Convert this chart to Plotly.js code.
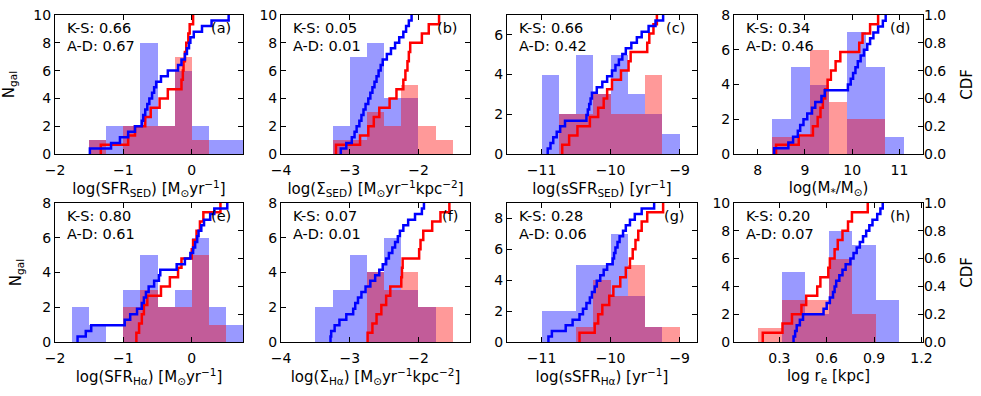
<!DOCTYPE html>
<html>
<head>
<meta charset="utf-8">
<script src="https://cdn.plot.ly/plotly-3.0.1.min.js"></script>
<style>
  body { margin: 0; background: #fff; }
  #plot { width: 981px; height: 396px; }
</style>
</head>
<body>
<div id="plot"></div>
<script>
// ---- data ----
// histogram counts per bin (bins start at binStart, fixed width)
const binStartA = -1.5, binWidthA = 0.25;
const histBlueA = [1, 2, 2, 8, 2, 6, 2, 1, 1];
const histRedA = [1, 0, 2, 2, 2, 7, 1];
const binStartB = -3.25, binWidthB = 0.25;
const histBlueB = [2, 7, 8, 4, 4];
const histRedB = [1, 1, 3, 2, 5, 2, 1];
const binStartC = -11, binWidthC = 0.25;
const histBlueC = [4, 2, 5, 3, 5, 3, 2, 1];
const histRedC = [0, 2, 2, 3, 2, 2, 4];
const binStartD = 8.3, binWidthD = 0.4;
const histBlueD = [2, 5, 4, 0, 7, 5, 1];
const histRedD = [1, 1, 6, 3, 2, 2];
const binStartE = -1.75, binWidthE = 0.25;
const histBlueE = [2, 1, 0, 3, 5, 2, 3, 6, 2, 1];
const histRedE = [0, 0, 0, 2, 3, 2, 2, 5, 1];
const binStartF = -3.5, binWidthF = 0.25;
const histBlueF = [2, 3, 5, 4, 6, 3, 2];
const histRedF = [0, 0, 0, 4, 3, 4, 2, 2];
const binStartG = -11, binWidthG = 0.25;
const histBlueG = [2, 2, 5, 5, 7, 3, 1];
const histRedG = [0, 0, 1, 4, 3, 5, 1, 1];
const binStartH = 0.165, binWidthH = 0.149;
const histBlueH = [0, 5, 2, 8, 7, 3];
const histRedH = [1, 3, 3, 6, 2];

// sample values where the cumulative curves step up
const cdfBlueA = [-1.49, -1.18, -1.05, -0.93, -0.83, -0.73, -0.71, -0.68, -0.65, -0.62, -0.58, -0.55, -0.52, -0.45, -0.35, -0.2, -0.15, -0.1, -0.07, -0.04, -0.02, 0.03, 0.15, 0.29, 0.54];
const cdfRedA = [-1.33, -0.93, -0.83, -0.68, -0.6, -0.47, -0.35, -0.15, -0.13, -0.12, -0.1, -0.08, -0.05, -0.03, 0.02];
const cdfBlueB = [-3.13, -3.05, -2.97, -2.93, -2.9, -2.86, -2.83, -2.8, -2.77, -2.73, -2.7, -2.67, -2.64, -2.61, -2.58, -2.55, -2.52, -2.46, -2.4, -2.34, -2.28, -2.22, -2.18, -2.14, -2.1];
const cdfRedB = [-3.2, -2.85, -2.73, -2.65, -2.57, -2.42, -2.32, -2.22, -2.19, -2.16, -2.14, -2.12, -1.95, -1.85, -1.7];
const cdfBlueC = [-10.91, -10.87, -10.83, -10.78, -10.73, -10.66, -10.35, -10.33, -10.31, -10.29, -10.27, -10.2, -10.12, -10.05, -9.98, -9.93, -9.88, -9.83, -9.78, -9.7, -9.62, -9.55, -9.45, -9.35, -9.24];
const cdfRedC = [-10.7, -10.6, -10.48, -10.3, -10.18, -10.1, -10.05, -9.98, -9.85, -9.74, -9.71, -9.47, -9.44, -9.38, -9.33];
const cdfBlueD = [8.35, 8.65, 8.75, 8.85, 8.9, 8.97, 9.05, 9.15, 9.22, 9.35, 9.42, 9.91, 9.97, 10.02, 10.07, 10.12, 10.18, 10.25, 10.32, 10.38, 10.45, 10.55, 10.65, 10.71];
const cdfRedD = [8.39, 8.87, 9.17, 9.27, 9.33, 9.38, 9.43, 9.48, 9.55, 9.65, 9.75, 10.15, 10.22, 10.38, 10.55];
const cdfBlueE = [-1.67, -1.55, -1.47, -0.98, -0.9, -0.8, -0.73, -0.7, -0.67, -0.63, -0.55, -0.48, -0.46, -0.22, -0.1, -0.02, 0.02, 0.05, 0.08, 0.1, 0.14, 0.18, 0.27, 0.33, 0.52];
const cdfRedE = [-0.81, -0.77, -0.73, -0.7, -0.65, -0.45, -0.32, -0.2, -0.15, 0.0, 0.02, 0.07, 0.12, 0.17, 0.42];
const cdfBlueF = [-3.28, -3.27, -3.22, -3.15, -3.05, -2.95, -2.92, -2.88, -2.83, -2.77, -2.7, -2.63, -2.57, -2.52, -2.47, -2.43, -2.38, -2.34, -2.3, -2.27, -2.22, -2.15, -2.05, -1.95, -1.92];
const cdfRedF = [-2.74, -2.67, -2.61, -2.54, -2.47, -2.41, -2.25, -2.24, -2.23, -1.99, -1.97, -1.93, -1.8, -1.68, -1.55];
const cdfBlueG = [-10.9, -10.85, -10.65, -10.55, -10.45, -10.4, -10.35, -10.3, -10.27, -10.23, -10.2, -10.15, -10.1, -10.05, -9.97, -9.95, -9.93, -9.9, -9.87, -9.82, -9.78, -9.72, -9.65, -9.55, -9.37];
const cdfRedG = [-10.45, -10.23, -10.18, -10.12, -10.02, -9.96, -9.86, -9.78, -9.72, -9.68, -9.64, -9.6, -9.55, -9.47, -9.24];
const cdfBlueH = [0.39, 0.40, 0.41, 0.43, 0.45, 0.58, 0.60, 0.62, 0.64, 0.65, 0.66, 0.68, 0.70, 0.72, 0.75, 0.77, 0.79, 0.81, 0.83, 0.85, 0.87, 0.89, 0.92, 0.94, 0.955];
const cdfRedH = [0.195, 0.32, 0.38, 0.44, 0.47, 0.54, 0.56, 0.61, 0.62, 0.65, 0.67, 0.70, 0.735, 0.76, 0.86];

// K-S and A-D p-values printed in each panel
const ksValues = ['0.66', '0.05', '0.66', '0.34', '0.80', '0.07', '0.28', '0.20'];
const adValues = ['0.67', '0.01', '0.42', '0.46', '0.61', '0.01', '0.06', '0.07'];
const panelTags = ['(a)', '(b)', '(c)', '(d)', '(e)', '(f)', '(g)', '(h)'];
const xTitles = [
  'log(SFR<sub>SED</sub>) [M<sub>⊙</sub>yr<sup>−1</sup>]',
  'log(Σ<sub>SED</sub>) [M<sub>⊙</sub>yr<sup>−1</sup>kpc<sup>−2</sup>]',
  'log(sSFR<sub>SED</sub>) [yr<sup>−1</sup>]',
  'log(M<sub>*</sub>/M<sub>⊙</sub>)',
  'log(SFR<sub>Hα</sub>) [M<sub>⊙</sub>yr<sup>−1</sup>]',
  'log(Σ<sub>Hα</sub>) [M<sub>⊙</sub>yr<sup>−1</sup>kpc<sup>−2</sup>]',
  'log(sSFR<sub>Hα</sub>) [yr<sup>−1</sup>]',
  'log r<sub>e</sub> [kpc]'
];

const panels = [
  {bs: binStartA, bw: binWidthA, hb: histBlueA, hr: histRedA, cb: cdfBlueA, cr: cdfRedA, xr: [-2, 0.75], xt: [-2, -1, 0], ymax: 10},
  {bs: binStartB, bw: binWidthB, hb: histBlueB, hr: histRedB, cb: cdfBlueB, cr: cdfRedB, xr: [-4, -1.25], xt: [-4, -3, -2], ymax: 10},
  {bs: binStartC, bw: binWidthC, hb: histBlueC, hr: histRedC, cb: cdfBlueC, cr: cdfRedC, xr: [-11.5, -8.75], xt: [-11, -10, -9], ymax: 7},
  {bs: binStartD, bw: binWidthD, hb: histBlueD, hr: histRedD, cb: cdfBlueD, cr: cdfRedD, xr: [7.5, 11.5], xt: [8, 9, 10, 11], ymax: 8},
  {bs: binStartE, bw: binWidthE, hb: histBlueE, hr: histRedE, cb: cdfBlueE, cr: cdfRedE, xr: [-2, 0.75], xt: [-2, -1, 0], ymax: 8},
  {bs: binStartF, bw: binWidthF, hb: histBlueF, hr: histRedF, cb: cdfBlueF, cr: cdfRedF, xr: [-4, -1.25], xt: [-4, -3, -2], ymax: 8},
  {bs: binStartG, bw: binWidthG, hb: histBlueG, hr: histRedG, cb: cdfBlueG, cr: cdfRedG, xr: [-11.5, -8.75], xt: [-11, -10, -9], ymax: 9},
  {bs: binStartH, bw: binWidthH, hb: histBlueH, hr: histRedH, cb: cdfBlueH, cr: cdfRedH, xr: [0.013, 1.21], xt: [0.3, 0.6, 0.9, 1.2], ymax: 10}
];

// ---- layout geometry ----
const xDomains = [[0, 0.2166], [0.2604, 0.4781], [0.5207, 0.7396], [0.7823, 1]];
const yDomains = [[0.5749, 1], [0, 0.4251]];
const FONT = 'DejaVu Sans, sans-serif';

function binCenters(start, width, n) {
  return Array.from({length: n}, (v, i) => start + (i + 0.5) * width);
}

function cdfSteps(vals) {
  const s = vals.slice().sort((a, b) => a - b);
  const xs = [s[0]], ys = [0];
  s.forEach((v, i) => { xs.push(v); ys.push((i + 1) / s.length); });
  return {xs, ys};
}

const traces = [];
const annotations = [];
const layout = {
  width: 981, height: 396,
  margin: {l: 55, r: 58, t: 15, b: 54},
  paper_bgcolor: '#fff', plot_bgcolor: '#fff',
  barmode: 'overlay', bargap: 0,
  showlegend: false,
  font: {family: FONT, size: 14, color: '#000'}
};

panels.forEach((p, i) => {
  const n = i + 1;
  const xa = n === 1 ? 'x' : 'x' + n;
  const yh = n === 1 ? 'y' : 'y' + (2 * n - 1);
  const yc = 'y' + (2 * n);
  const col = i % 4, row = Math.floor(i / 4);

  traces.push({
    type: 'bar', x: binCenters(p.bs, p.bw, p.hb.length), y: p.hb, width: p.bw,
    xaxis: xa, yaxis: yh, marker: {color: 'rgba(0,0,255,0.4)', line: {width: 0}}, hoverinfo: 'skip'
  });
  traces.push({
    type: 'bar', x: binCenters(p.bs, p.bw, p.hr.length), y: p.hr, width: p.bw,
    xaxis: xa, yaxis: yh, marker: {color: 'rgba(255,0,0,0.4)', line: {width: 0}}, hoverinfo: 'skip'
  });
  const r = cdfSteps(p.cr), b = cdfSteps(p.cb);
  traces.push({
    type: 'scatter', mode: 'lines', x: r.xs, y: r.ys, xaxis: xa, yaxis: yc,
    line: {color: '#ff0000', width: 2.5, shape: 'hv'}, hoverinfo: 'skip'
  });
  traces.push({
    type: 'scatter', mode: 'lines', x: b.xs, y: b.ys, xaxis: xa, yaxis: yc,
    line: {color: '#0000ff', width: 2.5, shape: 'hv'}, hoverinfo: 'skip'
  });

  const xName = n === 1 ? 'xaxis' : 'xaxis' + n;
  const yhName = n === 1 ? 'yaxis' : 'yaxis' + (2 * n - 1);
  const ycName = 'yaxis' + (2 * n);

  layout[xName] = {
    domain: xDomains[col], anchor: yh, range: p.xr,
    tickvals: p.xt, ticks: 'inside', ticklen: 5, tickcolor: '#000',
    ticklabelstandoff: 3,
    showline: true, linecolor: '#000', linewidth: 1, mirror: 'ticks',
    showgrid: false, zeroline: false,
    tickfont: {size: 14, color: '#000'},
    title: {text: xTitles[i], font: {size: 15, color: '#000'}, standoff: 5}
  };
  const yhAxis = {
    domain: yDomains[row], anchor: xa, range: [0, p.ymax], dtick: 2,
    ticks: 'inside', ticklen: 5, tickcolor: '#000',
    showline: true, linecolor: '#000', linewidth: 1, mirror: true,
    showgrid: false, zeroline: false,
    tickfont: {size: 14, color: '#000'}
  };
  if (col === 0) yhAxis.title = {text: 'N<sub>gal</sub>', font: {size: 15, color: '#000'}, standoff: 17};
  layout[yhName] = yhAxis;

  const ycAxis = {
    overlaying: yh, anchor: xa, side: 'right', range: [0, 1], dtick: 0.2,
    ticks: 'inside', ticklen: 5, tickcolor: '#000', tickformat: '.1f',
    showticklabels: col === 3, showline: false,
    showgrid: false, zeroline: false,
    tickfont: {size: 14, color: '#000'}
  };
  if (col === 3) ycAxis.title = {text: 'CDF', font: {size: 15, color: '#000'}, standoff: 16};
  layout[ycName] = ycAxis;

  const common = {xref: xa + ' domain', yref: yh + ' domain', showarrow: false,
                  font: {family: FONT, size: 14.5, color: '#000'}, yanchor: 'middle'};
  annotations.push(Object.assign({}, common, {x: 0.053, y: 0.905, xanchor: 'left', text: 'K-S: ' + ksValues[i]}));
  annotations.push(Object.assign({}, common, {x: 0.053, y: 0.78, xanchor: 'left', text: 'A-D: ' + adValues[i]}));
  annotations.push(Object.assign({}, common, {x: 0.947, y: 0.905, xanchor: 'right', text: panelTags[i]}));
});

layout.annotations = annotations;

Plotly.newPlot('plot', traces, layout, {staticPlot: true, displayModeBar: false});
</script>
</body>
</html>
